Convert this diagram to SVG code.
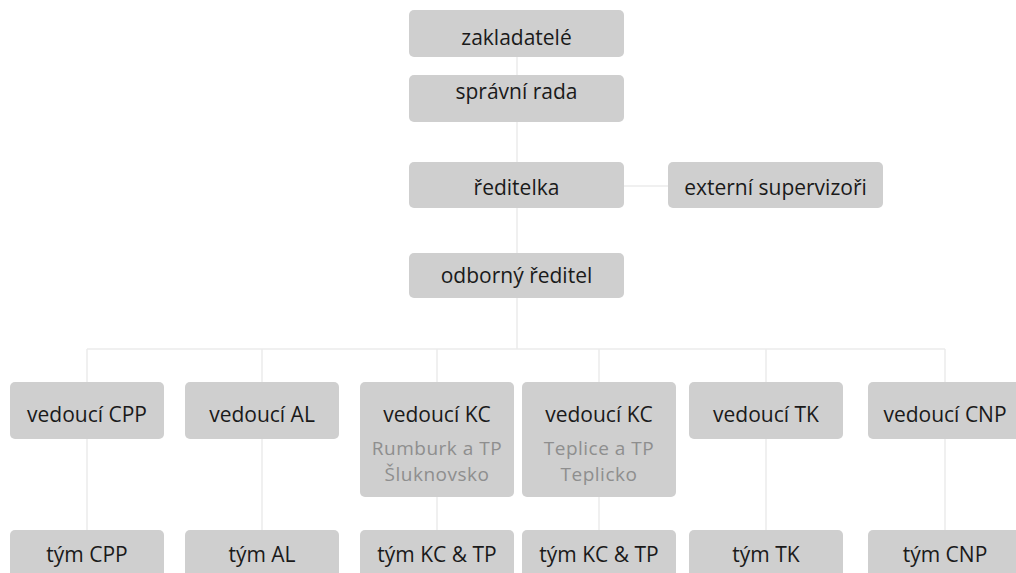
<svg xmlns="http://www.w3.org/2000/svg" width="1016" height="573" viewBox="0 0 1016 573">
<style>
.box{fill:#cfcfcf}
.t{font-family:"Open Sans","Liberation Sans",sans-serif;font-size:21px;fill:#1a1a1a;text-anchor:middle}
.s{fill:#8e8e8e;font-size:19px;letter-spacing:0.5px}
.c{stroke:#ebebeb;stroke-width:1.5;fill:none}
</style>
<rect width="1016" height="573" fill="#ffffff"/>
<g id="connectors">
<path class="c" d="M517 57V253M624 186H668M517 298V349M87 349H945M87 349V382M262 349V382M437 349V382M599 349V382M766 349V382M945 349V382M87 439V530M262 439V530M437 497V530M599 497V530M766 439V530M945 439V530"/>
</g>
<g id="zakladatele"><rect class="box" x="409" y="10" width="215" height="47" rx="5"/><text class="t" x="516.5" y="45">zakladatelé</text></g>
<g id="spravni-rada"><rect class="box" x="409" y="75" width="215" height="47" rx="5"/><text class="t" x="516.5" y="99">správní rada</text></g>
<g id="reditelka"><rect class="box" x="409" y="162" width="215" height="46" rx="5"/><text class="t" x="516.5" y="195">ředitelka</text></g>
<g id="externi-supervizori"><rect class="box" x="668" y="162" width="215" height="46" rx="5"/><text class="t" x="775.5" y="195">externí supervizoři</text></g>
<g id="odborny-reditel"><rect class="box" x="409" y="253" width="215" height="45" rx="5"/><text class="t" x="516.5" y="283">odborný ředitel</text></g>
<g id="vedouci-cpp"><rect class="box" x="10" y="382" width="154" height="57" rx="5"/><text class="t" x="87" y="422">vedoucí CPP</text></g>
<g id="vedouci-al"><rect class="box" x="185" y="382" width="154" height="57" rx="5"/><text class="t" x="262" y="422">vedoucí AL</text></g>
<g id="vedouci-kc-rumburk"><rect class="box" x="360" y="382" width="154" height="115" rx="5"/><text class="t" x="437" y="422">vedoucí KC</text><text class="t s" x="437" y="455">Rumburk a TP</text><text class="t s" x="437" y="481">Šluknovsko</text></g>
<g id="vedouci-kc-teplice"><rect class="box" x="522" y="382" width="154" height="115" rx="5"/><text class="t" x="599" y="422">vedoucí KC</text><text class="t s" x="599" y="455">Teplice a TP</text><text class="t s" x="599" y="481">Teplicko</text></g>
<g id="vedouci-tk"><rect class="box" x="689" y="382" width="154" height="57" rx="5"/><text class="t" x="766" y="422">vedoucí TK</text></g>
<g id="vedouci-cnp"><rect class="box" x="868" y="382" width="160" height="57" rx="5"/><text class="t" x="945" y="422">vedoucí CNP</text></g>
<g id="tym-cpp"><rect class="box" x="10" y="530" width="154" height="60" rx="5"/><text class="t" x="87" y="562">tým CPP</text></g>
<g id="tym-al"><rect class="box" x="185" y="530" width="154" height="60" rx="5"/><text class="t" x="262" y="562">tým AL</text></g>
<g id="tym-kc-tp-1"><rect class="box" x="360" y="530" width="154" height="60" rx="5"/><text class="t" x="437" y="562">tým KC &amp; TP</text></g>
<g id="tym-kc-tp-2"><rect class="box" x="522" y="530" width="154" height="60" rx="5"/><text class="t" x="599" y="562">tým KC &amp; TP</text></g>
<g id="tym-tk"><rect class="box" x="689" y="530" width="154" height="60" rx="5"/><text class="t" x="766" y="562">tým TK</text></g>
<g id="tym-cnp"><rect class="box" x="868" y="530" width="160" height="60" rx="5"/><text class="t" x="945" y="562">tým CNP</text></g>
</svg>
